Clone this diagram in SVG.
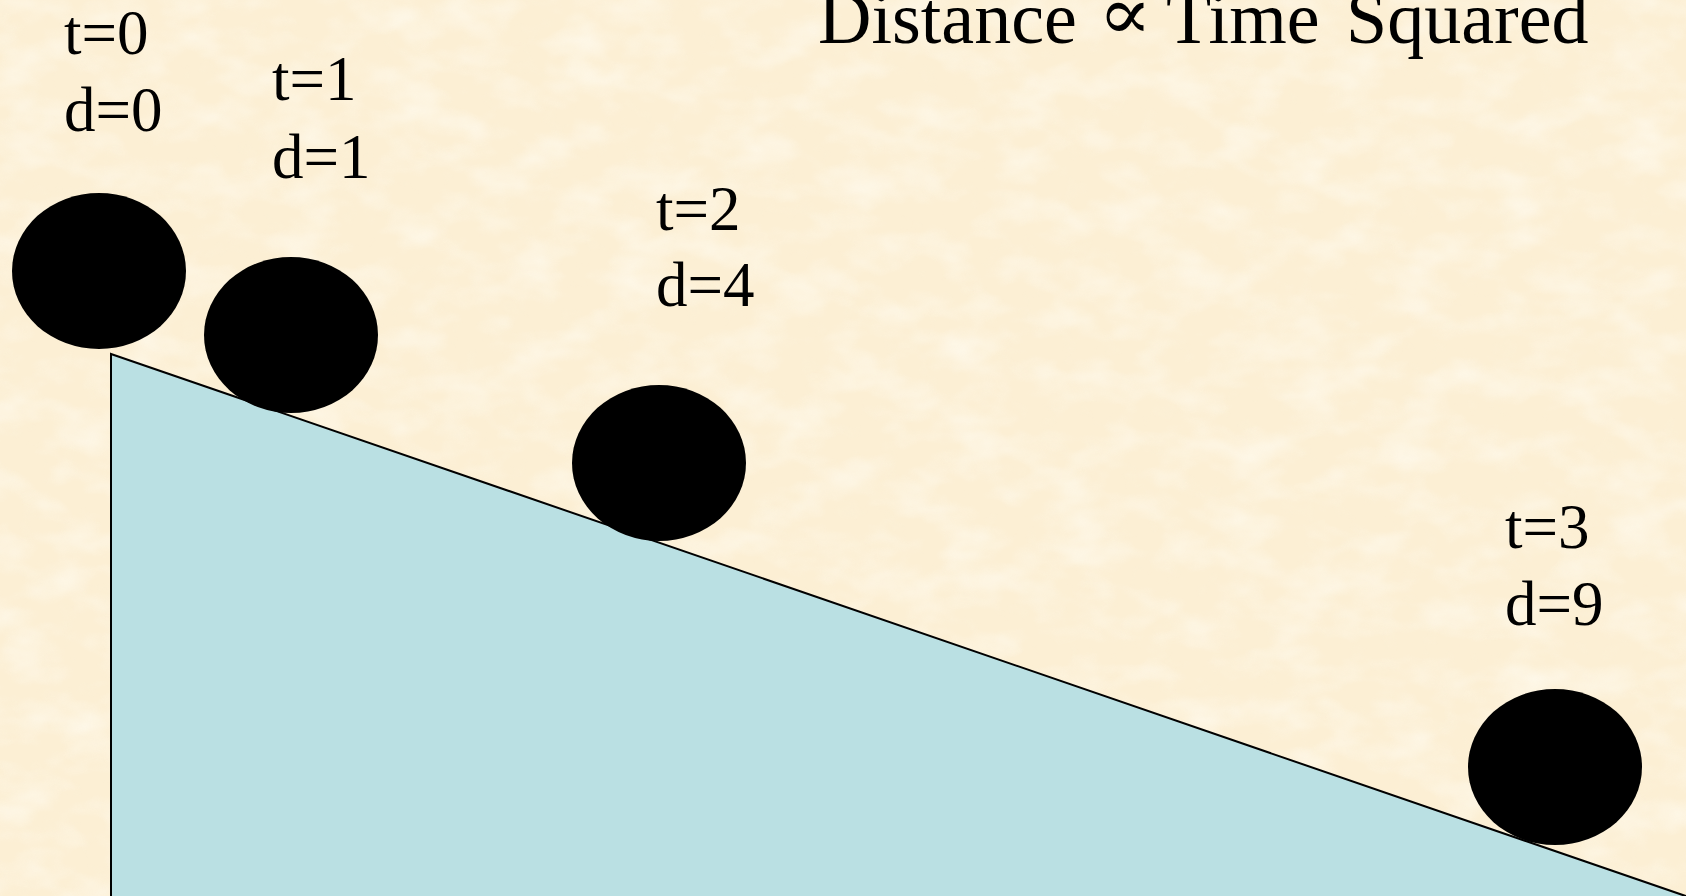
<svg xmlns="http://www.w3.org/2000/svg" width="1686" height="896" viewBox="0 0 1686 896">
  <defs>
    <filter id="paper" x="0" y="0" width="100%" height="100%">
      <feTurbulence type="fractalNoise" baseFrequency="0.018 0.03" numOctaves="3" seed="7"/>
      <feColorMatrix type="matrix" values="0 0 0 0 1  0 0 0 0 0.975  0 0 0 0 0.9  1.8 0 0 0 -0.75"/>
    </filter>
    <filter id="paper2" x="0" y="0" width="100%" height="100%">
      <feTurbulence type="fractalNoise" baseFrequency="0.05" numOctaves="2" seed="3"/>
      <feColorMatrix type="matrix" values="0 0 0 0 0.96  0 0 0 0 0.88  0 0 0 0 0.7  1.5 0 0 0 -0.85"/>
    </filter>
  </defs>
  <style>
    .lbl { font-family: "Liberation Serif", "Times New Roman", serif; font-size: 63px; fill: #000; }
    .title { font-family: "Liberation Serif", "DejaVu Serif", serif; font-size: 74px; fill: #000; }
    .ball { fill: #000; }
    .ramp { fill: #BAE0E3; stroke: #000; stroke-width: 2; }
  </style>
  <rect id="background" x="0" y="0" width="1686" height="896" fill="#FCEFD4"/>
  <rect x="0" y="0" width="1686" height="896" filter="url(#paper2)" opacity="0.5"/>
  <rect x="0" y="0" width="1686" height="896" filter="url(#paper)" opacity="0.7"/>

  <g id="title">
    <text class="title" y="43"><tspan x="818">Distance</tspan><tspan x="1166">Time</tspan><tspan x="1346">Squared</tspan></text>
    <text class="title" font-size="45" transform="translate(1098,39) scale(1.08,1)">∝</text>
  </g>

  <g id="ramp">
    <polygon class="ramp" points="111,354 1700,901 111,901"/>
  </g>

  <g id="ball-t0">
    <ellipse class="ball" cx="99" cy="271" rx="87" ry="78"/>
    <text class="lbl" x="64" y="54">t=0</text>
    <text class="lbl" x="64" y="131">d=0</text>
  </g>
  <g id="ball-t1">
    <ellipse class="ball" cx="291" cy="335" rx="87" ry="78"/>
    <text class="lbl" x="272" y="100">t=1</text>
    <text class="lbl" x="272" y="178">d=1</text>
  </g>
  <g id="ball-t2">
    <ellipse class="ball" cx="659" cy="463" rx="87" ry="78"/>
    <text class="lbl" x="656" y="230">t=2</text>
    <text class="lbl" x="656" y="306">d=4</text>
  </g>
  <g id="ball-t3">
    <ellipse class="ball" cx="1555" cy="767" rx="87" ry="78"/>
    <text class="lbl" x="1505" y="548">t=3</text>
    <text class="lbl" x="1505" y="625">d=9</text>
  </g>
  <g id="connectors"></g>
</svg>
